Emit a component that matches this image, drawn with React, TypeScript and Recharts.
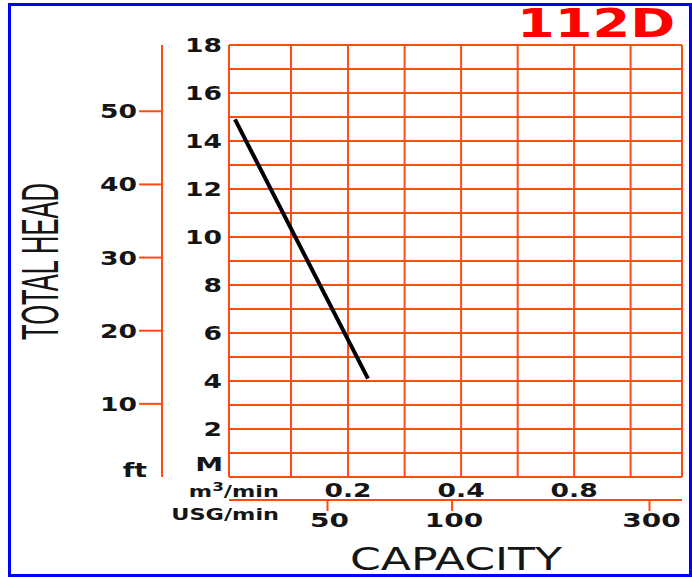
import React from "react";
import { ComposedChart, Line, XAxis, YAxis, CartesianGrid, Label } from "recharts";

// head grid, one line per metre
const headGridM = [0, 1, 2, 3, 4, 5, 6, 7, 8, 9, 10, 11, 12, 13, 14, 15, 16, 17, 18];
const headLabelsM = [2, 4, 6, 8, 10, 12, 14, 16, 18];
const headTicksFt = [0, 10, 20, 30, 40, 50];

// capacity grid is log spaced (m3/min)
const capacityGridM3 = [0.0964, 0.141, 0.2, 0.283, 0.4, 0.566, 0.8, 1.131, 1.55];
const capacityLabelsM3 = [0.2, 0.4, 0.8];
const capacityTicksUsg = [50, 100, 300];

// pump curve 112D
const curveFlowM3 = [0.1, 0.226];
const curveHeadM = [14.9, 4.1];

const curve = curveFlowM3.map((q, i) => ({ q, h: curveHeadM[i] }));

const GRID = "#ff4a10";
const INK = "#151515";
const FONT = "'DejaVu Sans', Verdana, sans-serif";

function Wide({ x, y, size, anchor = "middle", weight = 700, sx = 1.4, fill = INK, children }: any) {
  return (
    <g transform={`translate(${x},${y}) scale(${sx},1)`}>
      <text x={0} y={0} textAnchor={anchor} fontFamily={FONT} fontSize={size} fontWeight={weight} fill={fill}>
        {children}
      </text>
    </g>
  );
}

function MetreTick({ x, y, payload }: any) {
  const v = payload.value;
  if (v === 0) return <Wide x={x + 1} y={y - 6} size={20} anchor="end">M</Wide>;
  if (!headLabelsM.includes(v)) return <g />;
  return <Wide x={x} y={y + 7} size={19} anchor="end">{v}</Wide>;
}

function FeetTick({ x, y, payload }: any) {
  const v = payload.value;
  if (v === 0) return <Wide x={x + 10} y={y} size={19} anchor="end">ft</Wide>;
  return (
    <g>
      <line x1={x + 2} x2={x + 25} y1={y} y2={y} stroke={GRID} strokeWidth={2} />
      <Wide x={x} y={y + 7} size={19} anchor="end">{v}</Wide>
    </g>
  );
}

function M3Tick({ x, y, payload }: any) {
  if (!capacityLabelsM3.includes(payload.value)) return <g />;
  return <Wide x={x} y={y + 20} size={19}>{payload.value}</Wide>;
}

function UsgTick({ x, y, payload }: any) {
  return <Wide x={x + 2} y={y + 16} size={20}>{payload.value}</Wide>;
}

export default function App() {
  return (
    <div style={{ position: "relative", width: 692, height: 577, background: "#fff" }}>
      <style>{"body{margin:0}"}</style>
      <ComposedChart width={692} height={577} data={curve} margin={{ top: 45, right: 10, bottom: 0, left: 0 }}>
        <CartesianGrid xAxisId="m3" yAxisId="head" stroke={GRID} strokeWidth={2} />
        <YAxis
          yAxisId="headFt"
          type="number"
          domain={[0, 59.06]}
          allowDataOverflow
          ticks={headTicksFt}
          interval={0}
          width={162}
          axisLine={{ stroke: GRID, strokeWidth: 2 }}
          tickLine={false}
          tickSize={23}
          tickMargin={2}
          tick={<FeetTick />}
        >
          <Label
            content={() => (
              <text
                transform="translate(58,340) rotate(-90)"
                textAnchor="start"
                fontFamily="'Liberation Sans', Arial, sans-serif"
                fontSize={52}
                textLength={157}
                lengthAdjust="spacingAndGlyphs"
                fill={INK}
              >
                TOTAL HEAD
              </text>
            )}
          />
        </YAxis>
        <YAxis
          yAxisId="head"
          type="number"
          domain={[0, 18]}
          ticks={headGridM}
          interval={0}
          width={67}
          axisLine={false}
          tickLine={false}
          tickSize={0}
          tickMargin={7}
          tick={<MetreTick />}
        />
        <XAxis
          xAxisId="m3"
          dataKey="q"
          type="number"
          scale="log"
          domain={[0.0964, 1.55]}
          allowDataOverflow
          ticks={capacityGridM3}
          interval={0}
          height={23}
          axisLine={false}
          tickLine={false}
          tickSize={0}
          tickMargin={0}
          tick={<M3Tick />}
        >
          <Label
            content={() => (
              <Wide x={279} y={497} size={16} anchor="end">
                m<tspan dy={-6} fontSize={12}>3</tspan>
                <tspan dy={6}>/min</tspan>
              </Wide>
            )}
          />
        </XAxis>
        <XAxis
          xAxisId="usg"
          dataKey="q"
          type="number"
          scale="log"
          domain={[28.9, 359.5]}
          allowDataOverflow
          ticks={capacityTicksUsg}
          interval={0}
          height={77}
          axisLine={{ stroke: GRID, strokeWidth: 2 }}
          tickLine={{ stroke: GRID, strokeWidth: 2 }}
          tickSize={11}
          tickMargin={0}
          tick={<UsgTick />}
        >
          <Label
            content={() => (
              <g>
                <Wide x={279} y={520} size={16} anchor="end">USG/min</Wide>
                <Wide x={456} y={570} size={32} weight={400} sx={1.38}>CAPACITY</Wide>
              </g>
            )}
          />
        </XAxis>
        <Line
          xAxisId="m3"
          yAxisId="head"
          dataKey="h"
          type="linear"
          stroke="#000"
          strokeWidth={4}
          dot={false}
          isAnimationActive={false}
        />
      </ComposedChart>
      <svg width={692} height={577} style={{ position: "absolute", left: 0, top: 0, pointerEvents: "none" }}>
        <Wide x={517} y={37} size={39} anchor="start" sx={1.39} fill="#ff0000">112D</Wide>
      </svg>
      <div
        style={{
          position: "absolute",
          left: 8,
          top: 3,
          width: 684,
          height: 574,
          border: "3px solid #0000ff",
          boxSizing: "border-box",
          pointerEvents: "none",
        }}
      />
    </div>
  );
}
